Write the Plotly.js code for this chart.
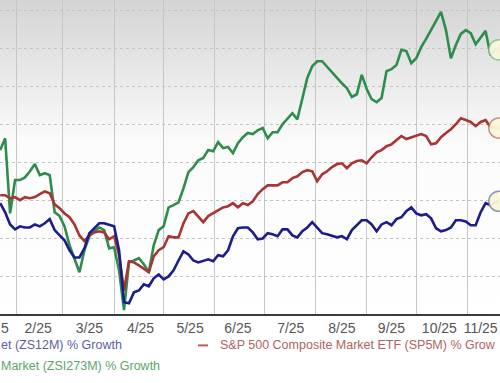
<!DOCTYPE html>
<html>
<head>
<meta charset="utf-8">
<script src="https://cdn.plot.ly/plotly-3.0.1.min.js"></script>
<style>
html,body{margin:0;padding:0;background:#ffffff;}
#chart{width:500px;height:383px;}
</style>
</head>
<body>
<div id="chart"></div>
<script>
// Dates (shared x for all series)
const dates = [
"2025-01-22","2025-01-25","2025-01-28","2025-01-31","2025-02-03","2025-02-06","2025-02-09","2025-02-12","2025-02-15","2025-02-18",
"2025-02-21","2025-02-24","2025-02-27","2025-03-02","2025-03-05","2025-03-08","2025-03-11","2025-03-14","2025-03-17","2025-03-20",
"2025-03-23","2025-03-26","2025-03-29","2025-04-01","2025-04-04","2025-04-07","2025-04-10","2025-04-13","2025-04-16","2025-04-19",
"2025-04-22","2025-04-25","2025-04-28","2025-05-01","2025-05-04","2025-05-07","2025-05-10","2025-05-13","2025-05-16","2025-05-19",
"2025-05-22","2025-05-25","2025-05-28","2025-05-31","2025-06-03","2025-06-06","2025-06-09","2025-06-12","2025-06-15","2025-06-18",
"2025-06-21","2025-06-24","2025-06-27","2025-06-30","2025-07-03","2025-07-06","2025-07-09","2025-07-12","2025-07-15","2025-07-18",
"2025-07-21","2025-07-24","2025-07-27","2025-07-30","2025-08-02","2025-08-05","2025-08-08","2025-08-11","2025-08-14","2025-08-17",
"2025-08-20","2025-08-23","2025-08-26","2025-08-29","2025-09-01","2025-09-04","2025-09-07","2025-09-10","2025-09-13","2025-09-16",
"2025-09-19","2025-09-22","2025-09-25","2025-09-28","2025-10-01","2025-10-04","2025-10-07","2025-10-10","2025-10-13","2025-10-16",
"2025-10-19","2025-10-22","2025-10-25","2025-10-28","2025-10-31","2025-11-03","2025-11-06","2025-11-09","2025-11-12","2025-11-15",
"2025-11-18","2025-11-20"];

// Industry (ZSI273M) % growth - green
const industryGrowth = [
3.2, 6.3, -13.5, -4.7, -4.7, -4.0, -2.4, -0.5, -3.4, -2.9,
-3.4, -13.2, -14.2, -16.9, -21.9, -25.6, -29.0, -23.2, -19.5, -18.2,
-17.2, -17.9, -22.7, -22.4, -28.5, -39.0, -26.4, -25.9, -25.3, -26.9,
-29.0, -21.9, -17.9, -16.9, -11.9, -11.3, -10.6, -6.9, -2.6, -1.3,
0.5, 1.1, 3.2, 2.9, 5.3, 3.7, 4.0, 2.4, 5.0, 6.6,
7.7, 7.4, 8.4, 9.0, 6.3, 7.9, 7.9, 10.0, 11.6, 12.9,
11.3, 17.2, 22.2, 25.3, 26.6, 26.6, 25.1, 23.7, 22.4, 20.8,
19.5, 17.2, 17.9, 23.0, 19.3, 16.6, 15.8, 16.9, 24.0, 24.5,
25.6, 29.6, 29.3, 26.1, 27.4, 30.3, 32.5, 34.8, 37.5, 39.6,
34.8, 27.4, 30.9, 33.8, 34.8, 34.0, 31.1, 33.0, 34.6, 28.2,
29.6, 29.6];

// S&P 500 (SP5M) % growth - red
const sp500Growth = [
-8.7, -8.7, -9.5, -9.2, -10.0, -9.2, -9.5, -9.2, -8.4, -7.7,
-8.2, -11.1, -12.1, -13.5, -14.5, -16.4, -19.3, -20.8, -19.3, -18.5,
-18.2, -18.5, -20.3, -19.5, -24.5, -33.8, -26.1, -26.4, -27.2, -28.2,
-29.0, -24.8, -23.2, -22.4, -19.5, -19.8, -19.8, -16.1, -13.5, -12.9,
-14.5, -15.8, -14.2, -13.5, -12.7, -11.9, -11.6, -10.8, -11.9, -10.8,
-11.3, -10.3, -8.4, -7.1, -6.1, -6.1, -6.1, -5.3, -5.3, -4.2,
-3.7, -2.6, -2.1, -2.4, -5.0, -3.2, -2.4, -1.3, -0.5, -0.3,
-1.6, -0.3, 0.3, 0.5, -0.3, 1.3, 2.6, 3.2, 4.2, 4.7,
5.8, 6.9, 6.1, 6.6, 6.9, 7.4, 6.9, 4.7, 5.0, 6.6,
7.7, 8.7, 10.0, 11.6, 11.1, 10.6, 9.5, 10.6, 11.1, 9.2,
9.0, 9.0];

// Sector (ZS12M) % growth - blue
const sectorGrowth = [
-10.8, -13.2, -16.4, -17.7, -16.9, -17.2, -17.2, -16.4, -16.9, -16.1,
-15.0, -17.9, -19.3, -20.6, -23.2, -25.1, -25.1, -22.7, -18.7, -17.4,
-16.1, -16.1, -16.4, -16.9, -23.2, -36.9, -37.2, -34.3, -33.8, -32.2,
-32.7, -30.6, -29.6, -30.9, -30.1, -28.5, -25.9, -23.5, -24.3, -25.9,
-26.4, -25.9, -25.6, -26.1, -24.5, -24.8, -23.2, -19.5, -17.4, -17.2,
-17.2, -18.5, -20.3, -20.1, -18.7, -19.0, -19.5, -17.7, -17.7, -19.3,
-19.8, -18.2, -17.2, -15.8, -17.2, -18.7, -19.0, -19.5, -19.8, -19.5,
-20.3, -17.9, -16.6, -15.3, -15.3, -16.4, -18.2, -16.4, -15.8, -16.6,
-15.0, -14.5, -12.9, -11.9, -13.5, -14.0, -13.7, -14.8, -17.4, -18.2,
-17.9, -17.2, -15.3, -15.3, -15.6, -16.6, -16.6, -13.2, -10.8, -11.3,
-10.6, -10.3];

// Axis tick labels (placed mid-month) and month boundaries (gridlines)
const tickDates = ["2025-02-14","2025-03-17","2025-04-17","2025-05-17","2025-06-15","2025-07-17","2025-08-17","2025-09-16","2025-10-15","2025-11-09"];
const tickLabels = ["2/25","3/25","4/25","5/25","6/25","7/25","8/25","9/25","10/25","11/25"];
const monthStarts = ["2025-01-01","2025-02-01","2025-03-01","2025-04-01","2025-05-01","2025-06-01","2025-07-01","2025-08-01","2025-09-01","2025-10-01","2025-11-01","2025-12-01"];

const names = {
  sector: "Sector Market (ZS12M) % Growth",
  sp500: "S&P 500 Composite Market ETF (SP5M) % Growth",
  industry: "Industry Market (ZSI273M) % Growth"
};

const colGreen = "#2e8c4c", colRed = "#a83434", colBlue = "#1c1c8c";

function lineTrace(y, color, name){
  return {x: dates, y: y, type: "scatter", mode: "lines", name: name,
    line: {color: color, width: 2.6, shape: "linear"}, showlegend: false, hoverinfo: "skip"};
}
function endMarker(y, color){
  const n = dates.length - 1;
  return {x: [dates[n]], y: [y[n]], type: "scatter", mode: "markers", showlegend: false,
    cliponaxis: false, hoverinfo: "skip",
    marker: {size: 20, color: "rgba(250,246,218,0.95)", line: {color: color, width: 1.5}}};
}

const traces = [
  lineTrace(industryGrowth, colGreen, names.industry),
  lineTrace(sp500Growth, colRed, names.sp500),
  lineTrace(sectorGrowth, colBlue, names.sector),
  endMarker(industryGrowth, "rgba(120,190,140,0.8)"),
  endMarker(sp500Growth, "rgba(190,120,110,0.8)"),
  endMarker(sectorGrowth, "rgba(120,120,170,0.8)")
];

const grad = "<svg xmlns='http://www.w3.org/2000/svg' width='10' height='100' preserveAspectRatio='none'>" +
  "<defs><linearGradient id='g' x1='0' y1='0' x2='0' y2='1'>" +
  "<stop offset='0' stop-color='#d4d4d4'/><stop offset='0.45' stop-color='#fbfbfb'/><stop offset='1' stop-color='#ffffff'/>" +
  "</linearGradient></defs><rect width='10' height='100' fill='url(#g)'/></svg>";

const fontFam = "'Liberation Sans', Arial, sans-serif";

const layout = {
  width: 500, height: 383,
  margin: {l: 0, r: 0, t: 0, b: 69, pad: 0},
  paper_bgcolor: "#ffffff",
  plot_bgcolor: "#ffffff",
  font: {family: fontFam, size: 14, color: "#555555"},
  showlegend: false,
  xaxis: {
    type: "date",
    range: ["2025-01-21 21:14", "2025-11-20 17:30"],
    tickmode: "array", tickvals: tickDates, ticktext: tickLabels,
    showgrid: false, ticks: "", zeroline: false,
    showline: true, linecolor: "#3a3a3a", linewidth: 2,
    tickfont: {family: fontFam, size: 14, color: "#555555"},
    minor: {tickmode: "array", tickvals: monthStarts, showgrid: true, gridcolor: "#c6c6c6", gridwidth: 1, ticks: ""},
    fixedrange: true
  },
  yaxis: {
    range: [-40, 42.74],
    tickmode: "linear", tick0: 0, dtick: 10,
    showgrid: true, gridcolor: "#c4c4c4", griddash: "dot", gridwidth: 1,
    showticklabels: false, zeroline: false, ticks: "", showline: false,
    fixedrange: true
  },
  images: [{
    source: "data:image/svg+xml;charset=utf-8," + encodeURIComponent(grad),
    xref: "paper", yref: "paper", x: 0, y: 1, sizex: 1, sizey: 1,
    xanchor: "left", yanchor: "top", sizing: "stretch", layer: "below"
  }],
  shapes: [
    {type: "line", xref: "paper", yref: "paper", x0: 0.396, x1: 0.416, y0: -0.1, y1: -0.1,
     line: {color: "#c05a5a", width: 2}}
  ],
  annotations: [
    {xref: "paper", yref: "paper", x: -0.002, y: -0.046, xanchor: "left", yanchor: "middle",
     text: "5", showarrow: false, font: {family: fontFam, size: 14, color: "#555555"}},
    {xref: "paper", yref: "paper", x: -0.002, y: -0.1, xanchor: "left", yanchor: "middle",
     text: "et (ZS12M) % Growth", showarrow: false, font: {family: fontFam, size: 12.5, color: "#5e5ea4"}},
    {xref: "paper", yref: "paper", x: 0.436, y: -0.1, xanchor: "left", yanchor: "middle",
     text: "S&amp;P 500 Composite Market ETF (SP5M) % Grow", showarrow: false, font: {family: fontFam, size: 12.5, color: "#b06262"}},
    {xref: "paper", yref: "paper", x: -0.002, y: -0.167, xanchor: "left", yanchor: "middle",
     text: "Market (ZSI273M) % Growth", showarrow: false, font: {family: fontFam, size: 12.5, color: "#5ca46c"}}
  ]
};

Plotly.newPlot("chart", traces, layout, {staticPlot: true, displayModeBar: false});
</script>
</body>
</html>
